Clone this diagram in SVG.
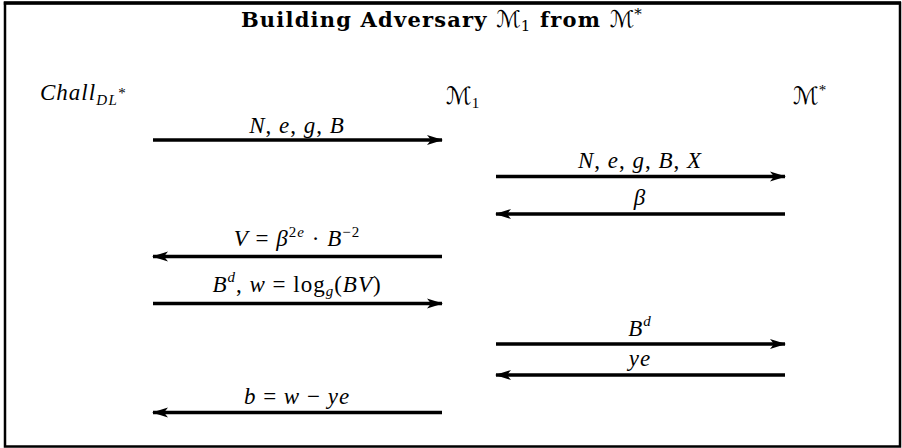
<svg xmlns="http://www.w3.org/2000/svg" width="902" height="448" viewBox="0 0 902 448">
<defs>
<style>
.t{font-family:"Liberation Serif","DejaVu Serif",serif;font-size:23px;fill:#000;letter-spacing:1px}
.i{font-style:italic}
.u{font-style:normal}
.title{font-family:"DejaVu Serif","Liberation Serif",serif;font-size:21px;font-weight:bold;fill:#000;letter-spacing:1.2px}
.scr{font-family:"DejaVu Serif","DejaVu Sans",serif;font-weight:normal;font-style:italic;letter-spacing:0}
.ln{stroke:#000;stroke-width:3.5;fill:none}
.sub{font-size:15px}
</style>
<marker id="ah" viewBox="0 0 16 12" refX="15" refY="6" markerWidth="16" markerHeight="12" markerUnits="userSpaceOnUse" orient="auto-start-reverse">
<path d="M0,1 L16,6 L0,11 L4,6 Z" fill="#000"/>
</marker>
</defs>
<rect x="5" y="3" width="895" height="443.5" fill="#fff" stroke="#000" stroke-width="2.5"/>
<line x1="3.8" y1="3" x2="901" y2="3" stroke="#000" stroke-width="3.5"/>
<text class="title" x="442" y="27" text-anchor="middle">Building Adversary <tspan class="scr" font-size="23">ℳ</tspan><tspan class="sub" font-weight="normal" dy="4">1</tspan><tspan dy="-4"> from </tspan><tspan class="scr" font-size="23">ℳ</tspan><tspan class="sub" font-weight="normal" dy="-8">*</tspan></text>
<g id="chall"><text class="t i" x="40" y="100" letter-spacing="2.5">Chall<tspan class="sub" dy="5" letter-spacing="1.5">DL</tspan><tspan class="sub u" dy="-7">*</tspan></text></g>
<g id="m1"><text class="t" x="446" y="104"><tspan class="scr" font-size="24">ℳ</tspan><tspan class="sub" dy="4">1</tspan></text></g>
<g id="mstar"><text class="t" x="793" y="104"><tspan class="scr" font-size="24">ℳ</tspan><tspan class="sub" dy="-9">*</tspan></text></g>
<g id="connectors">
<line class="ln" x1="153" y1="140" x2="442" y2="140" marker-end="url(#ah)"/>
<line class="ln" x1="496" y1="176.5" x2="785" y2="176.5" marker-end="url(#ah)"/>
<line class="ln" x1="496" y1="214" x2="785" y2="214" marker-start="url(#ah)"/>
<line class="ln" x1="153" y1="256.5" x2="442" y2="256.5" marker-start="url(#ah)"/>
<line class="ln" x1="153" y1="303.5" x2="442" y2="303.5" marker-end="url(#ah)"/>
<line class="ln" x1="496" y1="344" x2="785" y2="344" marker-end="url(#ah)"/>
<line class="ln" x1="496" y1="375" x2="785" y2="375" marker-start="url(#ah)"/>
<line class="ln" x1="153" y1="412.5" x2="442" y2="412.5" marker-start="url(#ah)"/>
<text class="t i" x="297" y="133" text-anchor="middle">N<tspan class="u">, </tspan>e<tspan class="u">, </tspan>g<tspan class="u">, </tspan>B</text>
<text class="t i" x="640" y="168" text-anchor="middle">N<tspan class="u">, </tspan>e<tspan class="u">, </tspan>g<tspan class="u">, </tspan>B<tspan class="u">, </tspan>X</text>
<text class="t i" x="640" y="205" text-anchor="middle">β</text>
<text class="t i" x="297" y="246" text-anchor="middle">V<tspan class="u"> = </tspan>β<tspan class="sub u" dy="-9">2</tspan><tspan class="sub">e</tspan><tspan class="u" dy="9"> · </tspan>B<tspan class="sub u" dy="-9">−2</tspan></text>
<text class="t i" x="297" y="292" text-anchor="middle">B<tspan class="sub" dy="-10">d</tspan><tspan class="u" dy="10">, </tspan>w<tspan class="u"> = log</tspan><tspan class="sub" dy="4">g</tspan><tspan class="u" dy="-4">(</tspan>BV<tspan class="u">)</tspan></text>
<text class="t i" x="640" y="336" text-anchor="middle">B<tspan class="sub" dy="-10">d</tspan></text>
<text class="t i" x="640" y="366" text-anchor="middle">ye</text>
<text class="t i" x="297" y="404" text-anchor="middle">b<tspan class="u"> = </tspan>w<tspan class="u"> − </tspan>ye</text>
</g>
</svg>
